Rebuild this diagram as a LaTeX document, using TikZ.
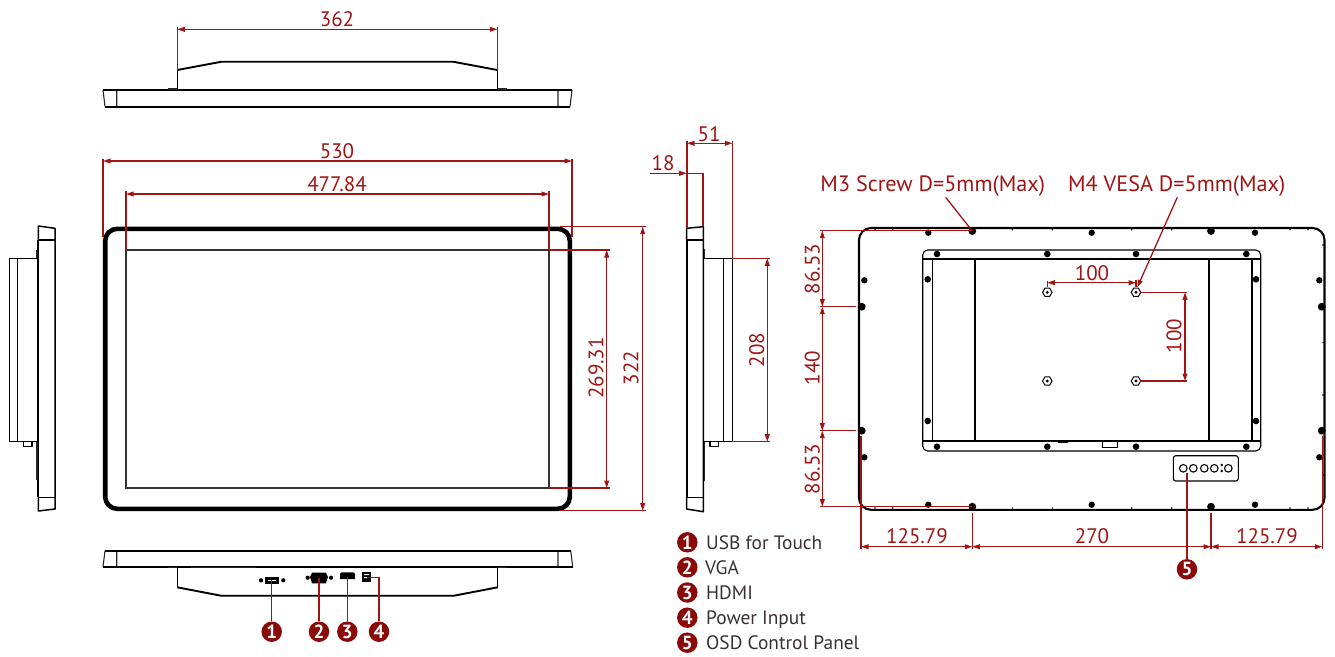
\documentclass[tikz,border=0pt]{standalone}
\usepackage{fontspec}
\setmainfont{PT Sans}
\usetikzlibrary{arrows.meta,shapes.geometric}
\definecolor{dimred}{HTML}{A01414}
\definecolor{callred}{HTML}{8A0A0A}
\definecolor{legendtext}{HTML}{3A3032}
\tikzset{
  dimline/.style={draw=dimred,line width=1.15pt,{Triangle[length=7.5pt,width=4.8pt]}-{Triangle[length=7.5pt,width=4.8pt]}},
  arrowone/.style={draw=dimred,line width=1.15pt,-{Triangle[length=7.5pt,width=4.8pt]}},
  extline/.style={draw=dimred,line width=1.15pt},
  leaderline/.style={draw=dimred,line width=1.3pt},
  dimtext/.style={text=dimred,font=\fontsize{21}{21}\selectfont,inner sep=0pt},
  labeltext/.style={text=dimred,font=\fontsize{22.2}{22}\selectfont,inner sep=0pt},
  legtext/.style={text=legendtext,font=\fontsize{19.4}{19}\selectfont,inner sep=0pt,anchor=base west},
  callout/.style={circle,fill=callred,text=white,minimum size=20.5pt,inner sep=0pt,font=\bfseries\fontsize{19}{19}\selectfont},
  body/.style={draw=black,line width=1.5pt,line join=round},
  thickbody/.style={draw=black,line width=1.9pt,line join=round},
  thinbody/.style={draw=black!85,line width=1.1pt},
  nuthex/.style={regular polygon,regular polygon sides=6,draw=black,line width=1pt,fill=white,minimum size=9.5pt,inner sep=0pt},
}
\begin{document}
\begin{tikzpicture}[x=1pt,y=-1pt]
\useasboundingbox (0,0) rectangle (1335,656);
%% top view
\draw[thinbody] (103,90) -- (105,106.5) (116.7,90) -- (116.7,106.5) (558,90) -- (558,106.5) (572,90) -- (570,106.5);
\draw[thickbody] (103,90) -- (572,90) (105,106.7) -- (570,106.7);
\draw[body] (177.3,70) -- (177.3,90) (497.3,70) -- (497.3,90);
\draw[thickbody] (177.3,70) -- (221.7,61.7) -- (453,61.7) -- (497.3,70);
\draw[thinbody] (168,89) -- (177,89) (497,89) -- (506.7,89);
\coordinate (t1) at (177.3,29.3); \coordinate (t2) at (497.3,29.3);
\draw[extline] (177.3,26.5) -- (177.3,70) (497.3,26.5) -- (497.3,70);
\draw[dimline] (t1) -- (t2);
\node[dimtext] (d362) at (337,19) {362};
%% front view
\draw[draw=black,line width=4.6pt,rounded corners=12pt] (105.2,228.8) rectangle (569.8,508.8);
\draw[draw=black!80,line width=1.2pt] (126,250) rectangle (549,488);
\coordinate (f1) at (103,161); \coordinate (f2) at (572,161);
\coordinate (g1) at (126,194); \coordinate (g2) at (549,194);
\draw[extline] (103,158.5) -- (103,237) (572,158.5) -- (572,237) (126,191) -- (126,250) (549,191) -- (549,250);
\draw[dimline] (f1) -- (f2);
\draw[dimline] (g1) -- (g2);
\node[dimtext] (d530) at (337,151) {530};
\node[dimtext] (d477) at (337,184) {477.84};
\coordinate (h1) at (606.7,250); \coordinate (h2) at (606.7,488);
\coordinate (k1) at (642.7,226.7); \coordinate (k2) at (642.7,510.7);
\draw[extline] (549,250) -- (609.5,250) (549,488) -- (609.5,488) (560,226.7) -- (645.5,226.7) (559,510.7) -- (645.5,510.7);
\draw[dimline] (h1) -- (h2);
\draw[dimline] (k1) -- (k2);
\node[dimtext,rotate=90] (d269) at (596,368) {269.31};
\node[dimtext,rotate=90] (d322) at (631,368) {322};
%% bottom view
\draw[thinbody] (105,550.7) -- (103,566.7) (116.7,550.7) -- (116.7,566.7) (558,550.7) -- (558,566.7) (570.7,550.7) -- (572.7,566.7);
\draw[thickbody] (105,550.7) -- (570.7,550.7) (103,566.7) -- (572.7,566.7);
\draw[body] (177.3,567) -- (177.3,587.3) (497.7,567) -- (497.7,587.3);
\draw[thickbody] (177.3,587.3) -- (221,595.7) -- (454,595.7) -- (497.7,587.3);
\draw[thinbody] (168,567.5) -- (177,567.5) (191,567.5) -- (256,567.5) (497,567.5) -- (507,567.5);
% ports
\fill[black] (265,576.7) rectangle (279.3,584.3);
\fill[white] (268,580) rectangle (276,581);
\fill[black] (261,580.3) circle (2.1) (283.3,580.3) circle (2.1);
\fill[black] (312,572.7) -- (326,572.7) -- (328,577) -- (326,583.3) -- (312,583.3) -- (310,577) -- cycle;
\fill[black] (307.7,577.7) circle (2.1) (331,577.7) circle (2.1);
\fill[black] (341.5,572.3) -- (353.5,572.3) -- (355,574) -- (355,579) -- (340,579) -- (340,574) -- cycle;
\fill[black] (361.7,571.7) rectangle (371,582.3);
\fill[white] (364,574) rectangle (369,575) (364,577) rectangle (368,578.2);
\node[callout] (c1) at (271.7,631.7) {1};
\node[callout] (c2) at (319,631.7) {2};
\node[callout] (c3) at (347.3,631.7) {3};
\node[callout] (c4) at (379,631.7) {4};
\coordinate (p1) at (271.7,580.3); \coordinate (p2) at (319,577.7);
\coordinate (p3) at (347.3,577); \coordinate (p4) at (366.7,577.7);
\draw[leaderline] (c1) -- (p1);
\draw[leaderline] (c2) -- (p2);
\draw[leaderline] (c3) -- (p3);
\draw[leaderline] (c4) |- (p4);
%% left side view
\draw[thickbody] (38.3,240) -- (38.3,497.3);
\draw[body] (38.3,240) -- (38.3,226) -- (55,228.3) -- (55,509) -- (38.3,511) -- (38.3,497.3);
\draw[body] (38.3,240) -- (55,240) (38.3,497.3) -- (55,497.3);
\draw[body] (38.3,258.3) -- (9.3,258.3) -- (9.3,441.7) -- (38.3,441.7);
\draw[body] (17.3,258.3) -- (17.3,441.7);
\draw[thinbody] (37,250) -- (37,258) (37,442) -- (37,480);
\draw[body] (23.5,442) -- (23.5,446.5) -- (32,446.5) -- (32,442);
%% right side view
\draw[thickbody] (686.7,240) -- (686.7,497.7);
\draw[body] (686.7,240) -- (686.7,228.3) -- (703.3,226.7) -- (703.3,511.7) -- (686.7,509) -- (686.7,497.7);
\draw[body] (686.7,240) -- (703.3,240) (686.7,497.7) -- (703.3,497.7);
\draw[body] (703.3,258.3) -- (732.3,258.3) -- (732.3,441.7) -- (703.3,441.7);
\draw[body] (723.3,258.3) -- (723.3,441.7);
\draw[thinbody] (704.5,249) -- (704.5,258) (704.5,442) -- (704.5,481);
\draw[body] (710,442) -- (710,446.5) -- (718.3,446.5) -- (718.3,442);
\coordinate (s1) at (687,143.3); \coordinate (s2) at (732.3,143.3);
\coordinate (e1) at (650,173.3); \coordinate (e2) at (686.7,173.3);
\coordinate (u1) at (767.3,258.3); \coordinate (u2) at (767.3,441.7);
\draw[extline] (687,141) -- (687,228) (732.3,141) -- (732.3,258.3);
\draw[dimline] (s1) -- (s2);
\draw[arrowone] (e1) -- (e2);
\draw[extline] (e2) -- (703,173.3) -- (703,226);
\draw[extline] (732.3,258.3) -- (770,258.3) (732.3,441.7) -- (770,441.7);
\draw[dimline] (u1) -- (u2);
\node[dimtext] (d51) at (709,134) {51};
\node[dimtext] (d18) at (663,163) {18};
\node[dimtext,rotate=90] (d208) at (756.7,350) {208};
%% rear view
\draw[draw=black,line width=2.1pt,rounded corners=12pt] (859,228) rectangle (1324.5,509.8);
\draw[draw=black,line width=1.1pt,rounded corners=5pt] (922.7,451) -- (922.7,250) -- (1260.7,250) -- (1260.7,451) -- cycle;
\draw[draw=black,line width=1.6pt] (922.7,259) -- (1260.7,259) (922.7,441) -- (1260.7,441);
\draw[draw=black,line width=1.6pt] (932.3,259) -- (932.3,441) (1251.7,259) -- (1251.7,441);
\draw[draw=black,line width=1.2pt] (975,259) -- (975,441) (1209,259) -- (1209,441);
\draw[draw=black,line width=1pt] (1102.3,441) rectangle (1117.3,447.3);
\draw[draw=black,line width=1.5pt] (1058,442.7) -- (1068,442.7);
% large screws
\foreach \p in {(972.3,231),(1211,231),(861.7,306.7),(861.7,430.7),(1321.7,306.7),(1321.7,430.7),(972.3,506.7),(1211,506.7)}
  \fill[black] \p circle (3.9);
% small screws
\foreach \p in {(928.3,232.7),(1091.7,232.7),(1255,232.7),(928.3,504.7),(1091.7,504.7),(1255,504.7),(864.3,280.3),(864.3,457.3),(1319.3,280.3),(1319.3,457.3)}
  \fill[black] \p circle (3.2);
% inner screws
\foreach \p in {(937,254),(1047.3,254),(1136,254),(1246.3,254),(937,446.7),(1047.3,446.7),(1136,446.7),(1246.3,446.7),(927.7,279.3),(927.7,421),(1256,279.3),(1256,421)}
  \fill[black] \p circle (3.3);
% tiny marks
\foreach \x in {875,892.7,1012.3,1052.3,1131.7,1171.7,1290,1308} {
  \fill[black] (\x,229.8) circle (.8);
  \fill[black] (\x,508) circle (.8);
}
\foreach \y in {245,342.7,395,475}
  \fill[black] (1323,\y) circle (.8);
% VESA nuts
\foreach \p in {(1047.3,292.3),(1136,292.3),(1047.3,381),(1136,381)} {
  \node[nuthex] at \p {};
  \fill[black] \p circle (1.6);
}
% OSD panel
\draw[draw=black,line width=1.1pt,rounded corners=2.5pt] (1173.3,455.7) rectangle (1238.3,481);
\foreach \x in {1183.3,1193.3,1204.3,1214.3,1228.3}
  \draw[black,line width=1.1pt] (\x,468.3) circle (3.8);
\fill[black] (1221.7,465) circle (1.3) (1221.7,471) circle (1.3);
\coordinate (osd) at (1187,472.7);
\node[callout] (c5) at (1187,569.3) {5};
\draw[leaderline] (c5) -- (osd);
% rear dimensions
\coordinate (r0) at (822.3,230.7); \coordinate (r1) at (822.3,306.7);
\coordinate (r2) at (822.3,430.7); \coordinate (r3) at (822.3,506.7);
\draw[extline] (820,230.7) -- (972.3,230.7) (820,306.7) -- (856,306.7) (820,430.7) -- (856,430.7) (820,506.7) -- (972.3,506.7);
\draw[dimline] (r0) -- (r1);
\draw[dimline] (r1) -- (r2);
\draw[dimline] (r2) -- (r3);
\node[dimtext,rotate=90] (d865a) at (812.3,269) {86.53};
\node[dimtext,rotate=90] (d140) at (812.3,368) {140};
\node[dimtext,rotate=90] (d865b) at (812.3,469) {86.53};
\coordinate (b0) at (861,546.7); \coordinate (b1) at (972.3,546.7);
\coordinate (b2) at (1211,546.7); \coordinate (b3) at (1322.3,546.7);
\draw[extline] (861,436) -- (861,548.5) (972.3,512.7) -- (972.3,548.5) (1211,512.7) -- (1211,548.5) (1322.3,436) -- (1322.3,548.5);
\draw[dimline] (b0) -- (b1);
\draw[dimline] (b1) -- (b2);
\draw[dimline] (b2) -- (b3);
\node[dimtext] (d125a) at (917,535.7) {125.79};
\node[dimtext] (d270) at (1092,535.7) {270};
\node[dimtext] (d125b) at (1267,535.7) {125.79};
% VESA dimensions
\coordinate (v1) at (1047.3,282.7); \coordinate (v2) at (1136,282.7);
\coordinate (w1) at (1185,292.3); \coordinate (w2) at (1185,381);
\draw[extline] (1047.3,281) -- (1047.3,287) (1136,280) -- (1136,287);
\draw[dimline] (v1) -- (v2);
\draw[extline] (1140,292.3) -- (1187,292.3) (1140,381) -- (1187,381);
\draw[dimline] (w1) -- (w2);
\node[dimtext] (d100a) at (1092,273) {100};
\node[dimtext,rotate=90] (d100b) at (1174,336) {100};
% screw callouts
\node[labeltext] (m3) at (932.7,186.5) {M3 Screw D=5mm(Max)};
\node[labeltext] (m4) at (1176.7,186.5) {M4 VESA D=5mm(Max)};
\coordinate (m3a) at (945.7,197.3); \coordinate (m3b) at (972.3,231);
\coordinate (m4a) at (1177.3,197.3); \coordinate (m4b) at (1137.3,287.3);
\draw[leaderline] (m3a) -- (m3b);
\draw[arrowone,line width=1.3pt] (m4a) -- (m4b);
%% legend
\node[callout] (l1) at (687.3,542.3) {1};
\node[callout] (l2) at (687.3,567.3) {2};
\node[callout] (l3) at (687.3,592.5) {3};
\node[callout] (l4) at (687.3,617.7) {4};
\node[callout] (l5) at (687.3,642.7) {5};
\node[legtext] (t1l) at (706,549) {USB for Touch};
\node[legtext] (t2l) at (705,574) {VGA};
\node[legtext] (t3l) at (706,599.3) {HDMI};
\node[legtext] (t4l) at (706,624.3) {Power Input};
\node[legtext] (t5l) at (706,649) {OSD Control Panel};
\end{tikzpicture}
\end{document}
